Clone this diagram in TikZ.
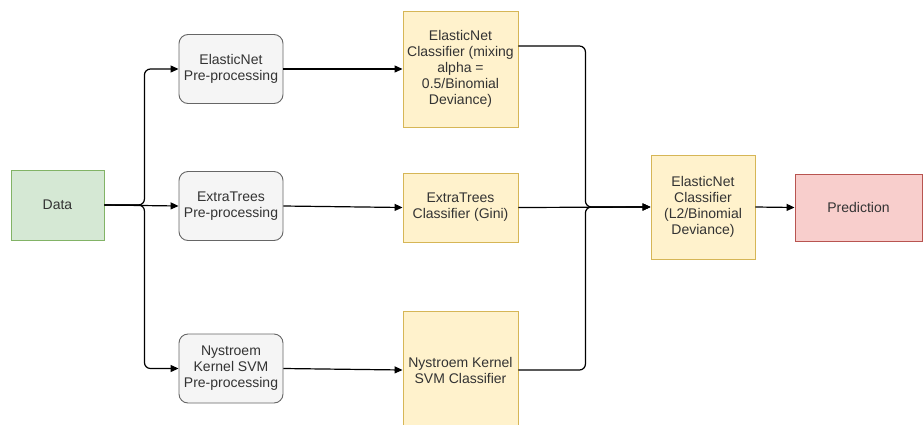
\documentclass[tikz,border=0pt]{standalone}
\usepackage{fontspec}
\setmainfont{Liberation Sans}
\usetikzlibrary{arrows.meta,calc}
\definecolor{txt}{HTML}{333333}
\definecolor{gfill}{HTML}{D5E8D4}\definecolor{gline}{HTML}{82B366}
\definecolor{pfill}{HTML}{F5F5F5}\definecolor{pline}{HTML}{666666}
\definecolor{yfill}{HTML}{FFF2CC}\definecolor{yline}{HTML}{D6B656}
\definecolor{rfill}{HTML}{F8CECC}\definecolor{rline}{HTML}{B85450}
\begin{document}
\begin{tikzpicture}[x=1pt,y=-1pt,
  basebox/.style={draw, line width=0.9pt, text=txt, font=\fontsize{14}{16}\selectfont, align=center, inner sep=0pt},
  databox/.style={basebox, fill=gfill, draw=gline},
  prebox/.style={basebox, fill=pfill, draw=pline, rounded corners=9pt, minimum width=104pt, minimum height=69pt},
  clsbox/.style={basebox, fill=yfill, draw=yline, minimum width=115pt},
  predbox/.style={basebox, fill=rfill, draw=rline},
  conn/.style={line width=1.2pt, draw=black, rounded corners=6pt, -{Triangle[length=8pt,width=7pt]}}
]
\useasboundingbox (0,0) rectangle (924,424);
\clip (0,0) rectangle (924,424);
\fill[white] (0,0) rectangle (924,424);
\node[databox, minimum width=93pt, minimum height=70pt] (data) at (57.5,205) {Data};
\node[prebox] (ep) at (231,69) {ElasticNet\\Pre-processing};
\node[prebox] (tp) at (231,206) {ExtraTrees\\Pre-processing};
\node[prebox] (np) at (231,368.5) {Nystroem\\Kernel SVM\\Pre-processing};
\node[clsbox, minimum height=116pt] (ec) at (460.5,69) {ElasticNet\\Classifier (mixing\\alpha =\\0.5/Binomial\\Deviance)};
\node[clsbox, minimum height=69pt] (tc) at (460.5,207.5) {ExtraTrees\\Classifier (Gini)};
\node[clsbox, minimum height=118pt] (nc) at (460.5,370) {Nystroem Kernel\\SVM Classifier};
\node[clsbox, minimum width=104pt, minimum height=104pt] (l2) at (703,207) {ElasticNet\\Classifier\\(L2/Binomial\\Deviance)};
\node[predbox, minimum width=127pt, minimum height=67pt] (pred) at (858.5,207.5) {Prediction};

\draw[conn] (data.east) -- ++(40,0) |- (ep.west);
\draw[conn] (data.east) -- (tp.west);
\draw[conn] (data.east) -- ++(40,0) |- (np.west);
\draw[conn] (ep.east) -- (ec.west);
\draw[conn] (tp.east) -- (tc.west);
\draw[conn] (np.east) -- (nc.west);
\draw[conn] ([yshift=23pt]ec.east) -- ++(67,0) |- (l2.west);
\draw[conn] (tc.east) -- (l2.west);
\draw[conn] (nc.east) -- ++(67,0) |- (l2.west);
\draw[conn] (l2.east) -- (pred.west);
\end{tikzpicture}
\end{document}
